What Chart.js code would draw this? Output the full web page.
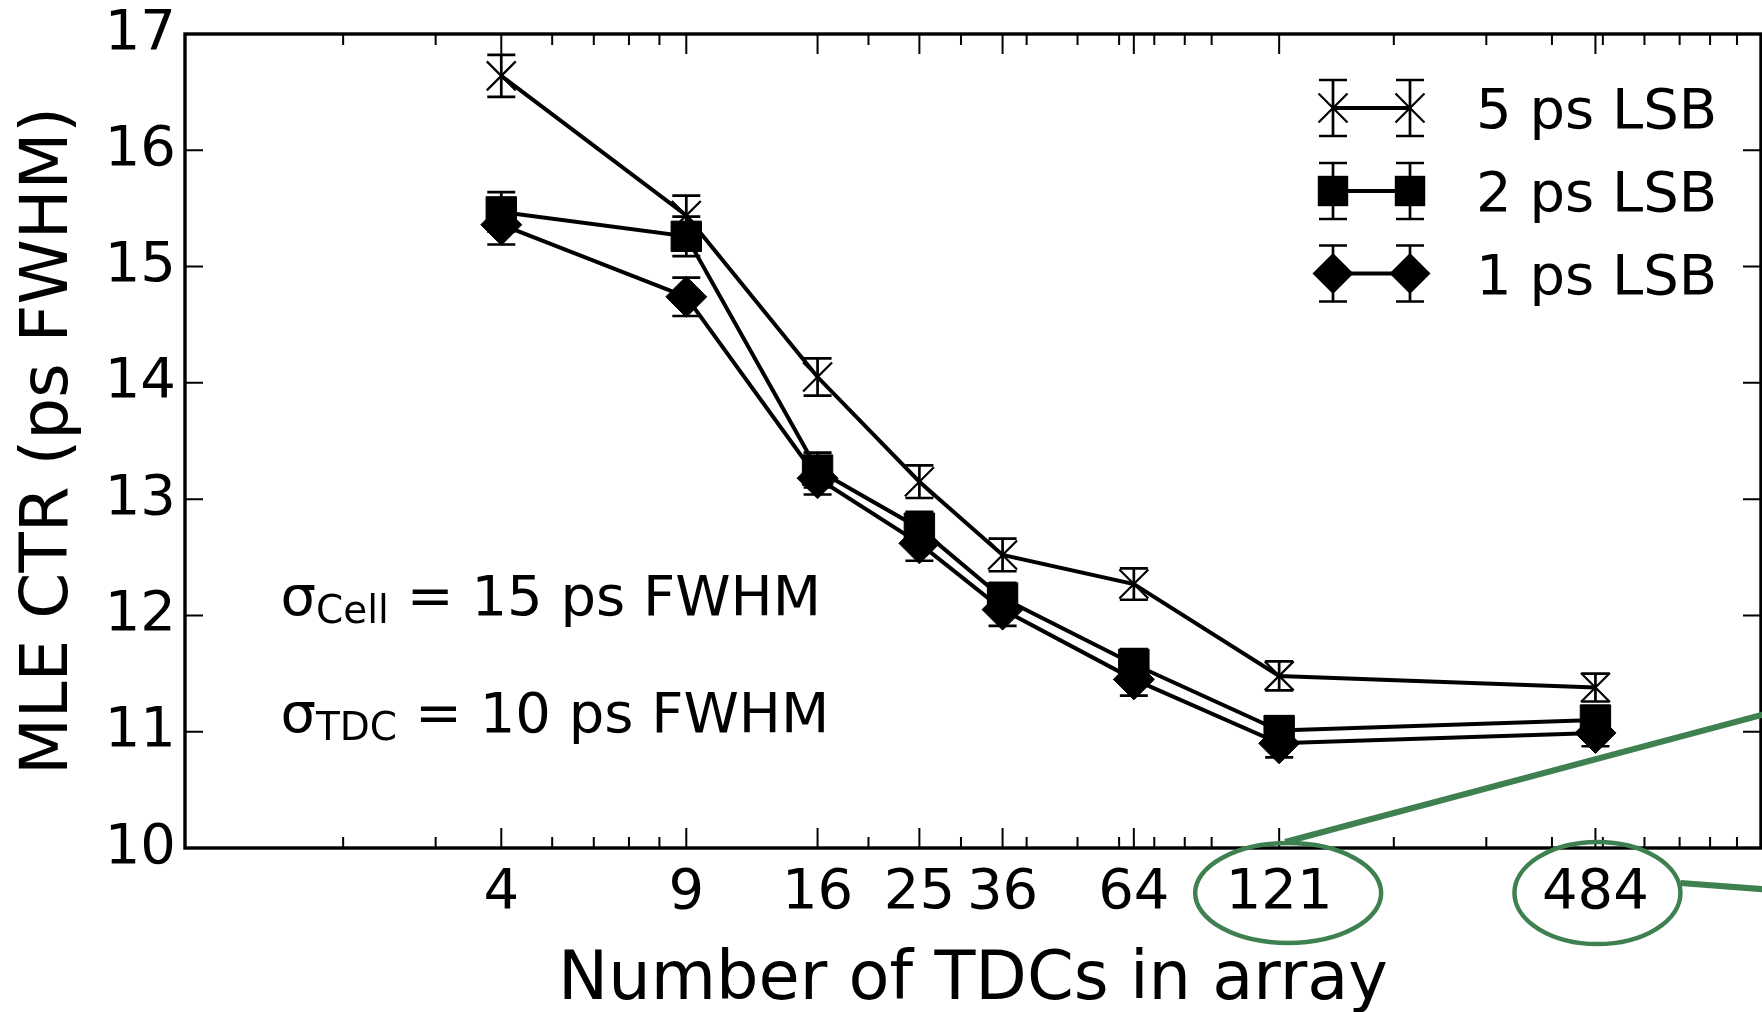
<!DOCTYPE html>
<html><head><meta charset="utf-8">
<script src="https://cdn.jsdelivr.net/npm/chart.js@4/dist/chart.umd.min.js"></script>
<style>html,body{margin:0;padding:0;background:#fff;overflow:hidden}canvas{display:block}</style>
</head><body>
<canvas id="c" width="1762" height="1012"></canvas>
<script>
// ---- data ----
const tdcCounts = [4, 9, 16, 25, 36, 64, 121, 484];
const ctr5ps = [16.64, 15.44, 14.05, 13.15, 12.52, 12.27, 11.48, 11.38];
const err5ps = [0.18, 0.17, 0.16, 0.14, 0.14, 0.135, 0.125, 0.12];
const ctr2ps = [15.47, 15.26, 13.25, 12.75, 12.15, 11.58, 11.01, 11.10];
const err2ps = [0.17, 0.17, 0.15, 0.14, 0.13, 0.13, 0.12, 0.12];
const ctr1ps = [15.36, 14.74, 13.18, 12.62, 12.05, 11.45, 10.90, 10.99];
const err1ps = [0.17, 0.165, 0.14, 0.15, 0.14, 0.14, 0.12, 0.115];
const seriesLabels = ['5 ps LSB', '2 ps LSB', '1 ps LSB'];
const xMajorTicks = [4, 9, 16, 25, 36, 64, 121, 484];
const xMinorTicks = [2, 3, 5, 6, 7, 8, 20, 30, 40, 50, 60, 70, 80, 90, 200, 300, 400, 500, 600, 700, 800, 900];
const yTicks = [10, 11, 12, 13, 14, 15, 16, 17];
const xTitle = 'Number of TDCs in array';
const yTitle = 'MLE CTR (ps FWHM)';
const annotations = [
  {x: 1.52, y: 12, sub: 'Cell', rest: ' = 15 ps FWHM'},
  {x: 1.52, y: 11, sub: 'TDC', rest: ' = 10 ps FWHM'}
];
const circledTicks = [121, 484];

const FONT = "'DejaVu Sans', sans-serif";
const GREEN = '#3f8050';
const styles = ['crossRot', 'rect', 'rectRot'];
const radii = [20.5, 21.5, 20.5];
const errs = [err5ps, err2ps, err1ps];
const vals = [ctr5ps, ctr2ps, ctr1ps];

function mkDataset(i) {
  return {
    label: seriesLabels[i],
    data: tdcCounts.map((x, j) => ({x: x, y: vals[i][j]})),
    borderColor: '#000',
    backgroundColor: '#000',
    borderWidth: 4,
    pointStyle: styles[i],
    pointRadius: radii[i],
    pointBorderWidth: i === 0 ? 2.2 : 1,
    pointBackgroundColor: '#000',
    pointBorderColor: '#000',
    tension: 0,
    clip: false
  };
}

function drawMarker(ctx, style, x, y, r) {
  ctx.save();
  ctx.fillStyle = '#000'; ctx.strokeStyle = '#000';
  ctx.beginPath();
  if (style === 'crossRot') {
    const o = r * Math.SQRT1_2;
    ctx.lineWidth = 2.2;
    ctx.moveTo(x - o, y - o); ctx.lineTo(x + o, y + o);
    ctx.moveTo(x + o, y - o); ctx.lineTo(x - o, y + o);
    ctx.stroke();
  } else if (style === 'rect') {
    const s = r * Math.SQRT1_2;
    ctx.rect(x - s, y - s, 2 * s, 2 * s);
    ctx.fill();
  } else {
    ctx.moveTo(x - r, y); ctx.lineTo(x, y - r); ctx.lineTo(x + r, y); ctx.lineTo(x, y + r);
    ctx.closePath(); ctx.fill();
  }
  ctx.restore();
}

function errBar(ctx, x, y1, y2, cap) {
  ctx.beginPath();
  ctx.moveTo(x, y1); ctx.lineTo(x, y2);
  ctx.moveTo(x - cap, y1); ctx.lineTo(x + cap, y1);
  ctx.moveTo(x - cap, y2); ctx.lineTo(x + cap, y2);
  ctx.stroke();
}

const errorBarsPlugin = {
  id: 'errorBars',
  beforeDatasetsDraw(chart) {
    const ctx = chart.ctx, xs = chart.scales.x, ys = chart.scales.y;
    ctx.save();
    ctx.strokeStyle = '#000'; ctx.lineWidth = 2.7;
    for (let i = 0; i < 3; i++) {
      tdcCounts.forEach((t, j) => {
        const px = xs.getPixelForValue(t);
        errBar(ctx, px, ys.getPixelForValue(vals[i][j] + errs[i][j]), ys.getPixelForValue(vals[i][j] - errs[i][j]), 14);
      });
    }
    ctx.restore();
  }
};

const framePlugin = {
  id: 'frame',
  afterDraw(chart) {
    const ctx = chart.ctx, a = chart.chartArea, xs = chart.scales.x, ys = chart.scales.y;
    ctx.save();
    ctx.strokeStyle = '#000';
    ctx.lineWidth = 2;
    ctx.beginPath();
    xMajorTicks.forEach(v => {
      const p = xs.getPixelForValue(v);
      ctx.moveTo(p, a.bottom); ctx.lineTo(p, a.bottom - 20);
      ctx.moveTo(p, a.top); ctx.lineTo(p, a.top + 20);
    });
    xMinorTicks.forEach(v => {
      const p = xs.getPixelForValue(v);
      ctx.moveTo(p, a.bottom); ctx.lineTo(p, a.bottom - 11);
      ctx.moveTo(p, a.top); ctx.lineTo(p, a.top + 11);
    });
    yTicks.forEach(v => {
      const p = ys.getPixelForValue(v);
      ctx.moveTo(a.left, p); ctx.lineTo(a.left + 18, p);
      ctx.moveTo(a.right, p); ctx.lineTo(a.right - 18, p);
    });
    ctx.stroke();
    ctx.lineWidth = 3.4;
    ctx.strokeRect(a.left, a.top, a.right - a.left, a.bottom - a.top);

    // legend
    const rowY = [a.top + 74, a.top + 157, a.top + 239.5];
    const m1 = a.right - 428, m2 = a.right - 351, tx = a.right - 285;
    for (let i = 0; i < 3; i++) {
      const y = rowY[i];
      ctx.lineWidth = 2.7;
      errBar(ctx, m1, y - 28, y + 28, 14);
      errBar(ctx, m2, y - 28, y + 28, 14);
      ctx.lineWidth = 4;
      ctx.beginPath(); ctx.moveTo(m1, y); ctx.lineTo(m2, y); ctx.stroke();
      drawMarker(ctx, styles[i], m1, y, radii[i]);
      drawMarker(ctx, styles[i], m2, y, radii[i]);
      ctx.fillStyle = '#000';
      ctx.font = '56px ' + FONT;
      ctx.textBaseline = 'alphabetic';
      ctx.textAlign = 'left';
      ctx.fillText(seriesLabels[i], tx, y + 20);
    }

    // sigma annotations
    annotations.forEach(an => {
      let x = xs.getPixelForValue(an.x);
      const y = ys.getPixelForValue(an.y);
      ctx.fillStyle = '#000';
      ctx.textAlign = 'left';
      ctx.textBaseline = 'alphabetic';
      ctx.font = '56px ' + FONT;
      ctx.fillText('σ', x, y);
      x += ctx.measureText('σ').width;
      ctx.font = '39px ' + FONT;
      ctx.fillText(an.sub, x, y + 8);
      x += ctx.measureText(an.sub).width;
      ctx.font = '56px ' + FONT;
      ctx.fillText(an.rest, x, y);
    });

    // green highlight annotations
    ctx.strokeStyle = GREEN;
    const p121 = xs.getPixelForValue(circledTicks[0]);
    const p484 = xs.getPixelForValue(circledTicks[1]);
    const cy = a.bottom + 45;
    ctx.lineWidth = 4.5;
    ctx.beginPath(); ctx.ellipse(p121 + 9, cy, 93, 50, 0, 0, Math.PI * 2); ctx.stroke();
    ctx.beginPath(); ctx.ellipse(p484 + 2, cy, 83, 51, 0, 0, Math.PI * 2); ctx.stroke();
    ctx.lineWidth = 6;
    ctx.beginPath();
    ctx.moveTo(p121 + 6, a.bottom - 6);
    ctx.lineTo(p121 + 6 + 520, a.bottom - 6 - 0.2665 * 520);
    ctx.stroke();
    ctx.beginPath();
    ctx.moveTo(p484 + 85, cy - 10);
    ctx.lineTo(p484 + 85 + 120, cy - 10 + 9);
    ctx.stroke();
    ctx.restore();
  }
};

function noPad(s) { s.paddingTop = 0; s.paddingBottom = 0; s.paddingLeft = 0; s.paddingRight = 0; }

Chart.defaults.font.family = FONT;
Chart.defaults.color = '#000';

new Chart(document.getElementById('c'), {
  type: 'line',
  data: {datasets: [0, 1, 2].map(mkDataset)},
  options: {
    responsive: false,
    animation: false,
    events: [],
    layout: {autoPadding: false, padding: {top: 34, right: 1, left: 0, bottom: 0}},
    plugins: {legend: {display: false}, tooltip: {enabled: false}},
    scales: {
      x: {
        type: 'logarithmic',
        min: 1, max: 1000,
        afterBuildTicks: s => { s.ticks = xMajorTicks.map(v => ({value: v})); },
        afterFit: s => { s.height = 164; noPad(s); },
        grid: {display: true, drawOnChartArea: false, drawTicks: false},
        border: {display: false},
        ticks: {
          autoSkip: false, maxRotation: 0, minRotation: 0,
          padding: 12,
          font: {size: 56, family: FONT},
          color: '#000',
          callback: v => String(v)
        },
        title: {display: true, text: xTitle, font: {size: 67, family: FONT, lineHeight: 1}, color: '#000', padding: {top: 0, bottom: -3}}
      },
      y: {
        type: 'linear',
        min: 10, max: 17,
        afterBuildTicks: s => { s.ticks = yTicks.map(v => ({value: v})); },
        afterFit: s => { s.width = 185; noPad(s); },
        grid: {display: true, drawOnChartArea: false, drawTicks: false},
        border: {display: false},
        ticks: {padding: 9, font: {size: 56, family: FONT}, color: '#000', callback: v => String(v)},
        title: {display: true, text: yTitle, font: {size: 66, family: FONT}, color: '#000', padding: {top: 10, bottom: 0}}
      }
    }
  },
  plugins: [errorBarsPlugin, framePlugin]
});
</script>
</body></html>
